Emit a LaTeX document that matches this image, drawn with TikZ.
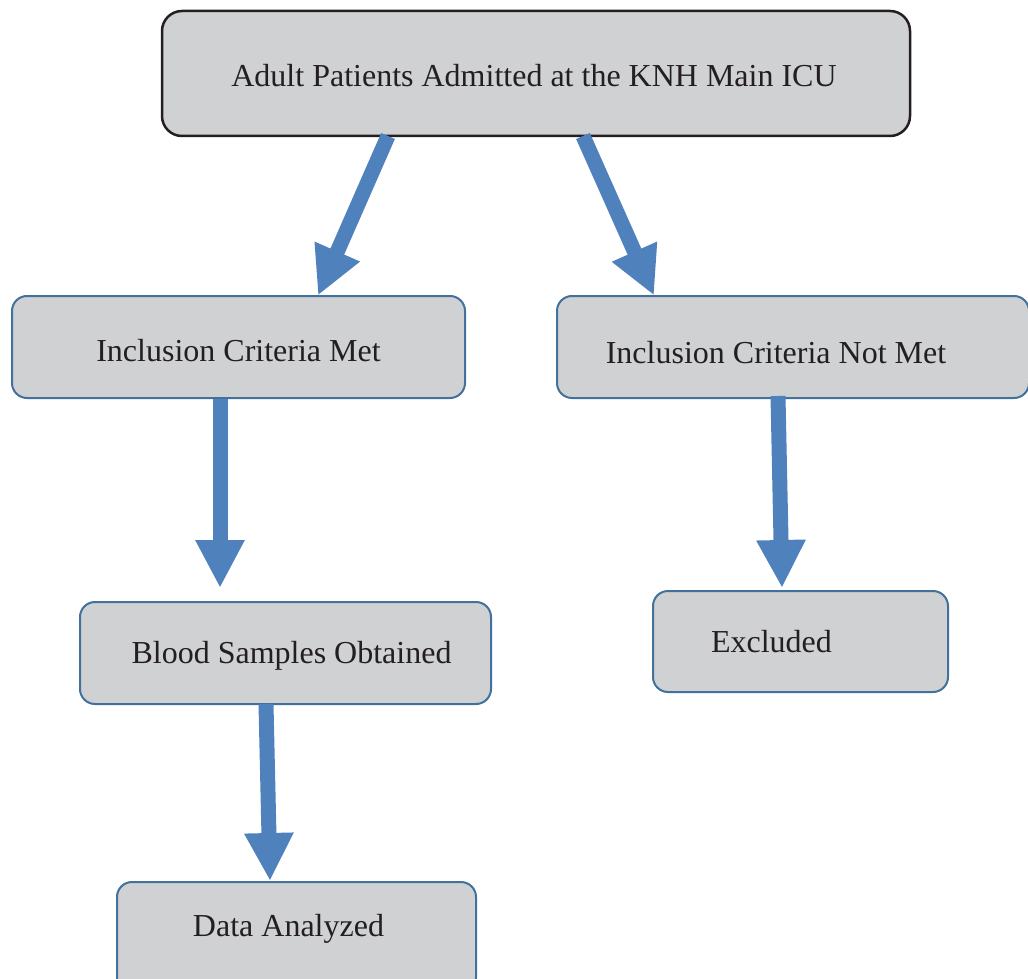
\documentclass[tikz,border=0pt]{standalone}
\usepackage{fontspec}
\setmainfont{Liberation Serif}
\usetikzlibrary{arrows.meta}
\definecolor{boxfill}{HTML}{D0D1D3}
\definecolor{boxblue}{HTML}{41719C}
\definecolor{arrblue}{HTML}{4F81BD}
\definecolor{txt}{HTML}{231F20}
\tikzset{
  box/.style={draw=boxblue, line width=2pt, fill=boxfill, rounded corners=15pt, inner sep=0pt},
  topbox/.style={box, draw=txt, line width=2.5pt, rounded corners=20pt},
  lab/.style={font=\fontsize{32}{38}\selectfont, text=txt},
  flow/.style={draw=arrblue, line width=15pt, -{Triangle[width=46pt,length=48pt]}}
}
\begin{document}
\begin{tikzpicture}[x=1pt,y=-1pt]
\useasboundingbox (0,0) rectangle (1028,979);
\clip (0,0) rectangle (1028,979);
\node[topbox, minimum width=748pt, minimum height=125pt,
  label={[lab, xshift=-2pt, yshift=-2pt]center:Adult Patients Admitted at the KNH Main ICU}] (top) at (536,73.5) {};
\node[box, minimum width=453pt, minimum height=102pt,
  label={[lab, yshift=-4pt]center:Inclusion Criteria Met}] (met) at (238.5,347) {};
\node[box, minimum width=472pt, minimum height=102pt,
  label={[lab, xshift=-17pt, yshift=-6pt]center:Inclusion Criteria Not Met}] (notmet) at (793,347) {};
\node[box, minimum width=411pt, minimum height=102pt,
  label={[lab, xshift=6pt, yshift=-3pt]center:Blood Samples Obtained}] (blood) at (285.5,653) {};
\node[box, minimum width=295pt, minimum height=101pt,
  label={[lab, xshift=-29pt, yshift=0pt]center:Excluded}] (excl) at (800.5,641.5) {};
\node[box, minimum width=359pt, minimum height=110pt,
  label={[lab, xshift=-8pt, yshift=8pt]center:Data Analyzed}] (data) at (296.5,937) {};
\coordinate (a1s) at (388,136);
\coordinate (a2s) at (583,136);
\draw[flow] (a1s) -- (318,295.5) coordinate (a1e);
\draw[flow] (a2s) -- (654,295.5) coordinate (a2e);
\draw[flow] (met.south -| 220,0) -- (220,588);
\draw[flow] (778,396) -- (782,588);
\draw[flow] (266,704) -- (270,881);
\end{tikzpicture}
\end{document}
